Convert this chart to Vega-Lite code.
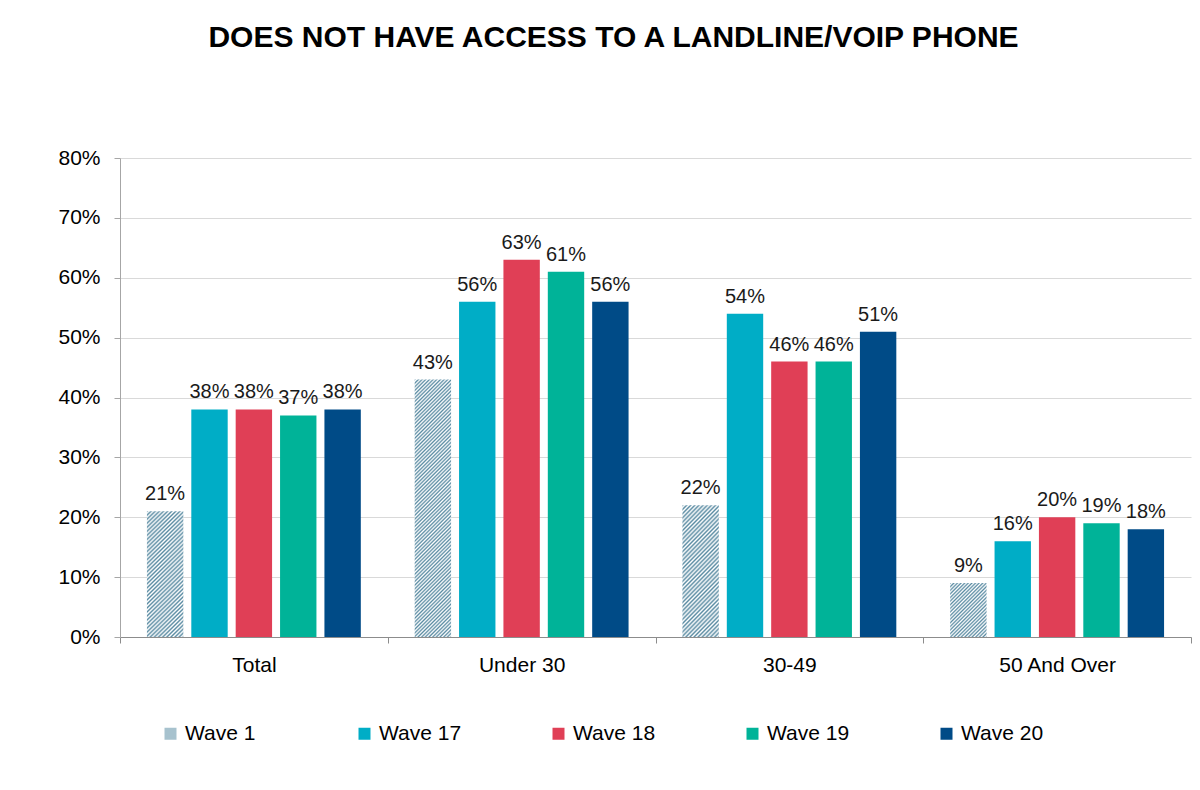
{
"$schema":"https://vega.github.io/schema/vega-lite/v6.json",
"width":1071,"height":479,
"autosize":"none",
"padding":{"left":120,"top":158,"right":9,"bottom":153},
"background":"white",
"title":{"text":"DOES NOT HAVE ACCESS TO A LANDLINE/VOIP PHONE","fontSize":30,"fontWeight":"bold","font":"Liberation Sans","color":"#000000","anchor":"middle","frame":"group","dx":-42,"offset":94},
"data":{"values":[
{"group":"Total","wave":"Wave 1","value":0.21},
{"group":"Total","wave":"Wave 17","value":0.38},
{"group":"Total","wave":"Wave 18","value":0.38},
{"group":"Total","wave":"Wave 19","value":0.37},
{"group":"Total","wave":"Wave 20","value":0.38},
{"group":"Under 30","wave":"Wave 1","value":0.43},
{"group":"Under 30","wave":"Wave 17","value":0.56},
{"group":"Under 30","wave":"Wave 18","value":0.63},
{"group":"Under 30","wave":"Wave 19","value":0.61},
{"group":"Under 30","wave":"Wave 20","value":0.56},
{"group":"30-49","wave":"Wave 1","value":0.22},
{"group":"30-49","wave":"Wave 17","value":0.54},
{"group":"30-49","wave":"Wave 18","value":0.46},
{"group":"30-49","wave":"Wave 19","value":0.46},
{"group":"30-49","wave":"Wave 20","value":0.51},
{"group":"50 And Over","wave":"Wave 1","value":0.09},
{"group":"50 And Over","wave":"Wave 17","value":0.16},
{"group":"50 And Over","wave":"Wave 18","value":0.20},
{"group":"50 And Over","wave":"Wave 19","value":0.19},
{"group":"50 And Over","wave":"Wave 20","value":0.18}
]},
"encoding":{
"x":{"field":"group","type":"nominal","sort":["Total","Under 30","30-49","50 And Over"],"scale":{"paddingInner":0,"paddingOuter":0},
"axis":{"title":null,"labelAngle":0,"labelFontSize":21,"labelFont":"Liberation Sans","labelColor":"#000000","labelPadding":11,"tickBand":"extent","tickSize":6,"tickColor":"#8c8c8c","domainColor":"#8c8c8c","grid":false}},
"xOffset":{"field":"wave","type":"nominal","sort":["Wave 1","Wave 17","Wave 18","Wave 19","Wave 20"],"scale":{"paddingInner":0.18,"paddingOuter":0.607}},
"y":{"field":"value","type":"quantitative","scale":{"domain":[0,0.8]},
"axis":{"title":null,"values":[0,0.1,0.2,0.3,0.4,0.5,0.6,0.7,0.8],"format":".0%","labelFontSize":21,"labelFont":"Liberation Sans","labelColor":"#000000","labelPadding":14,"tickSize":6,"tickColor":"#a6a6a6","domainColor":"#a6a6a6","gridColor":"#d9d9d9"}}
},
"layer":[
{"mark":{"type":"bar"},
"encoding":{"color":{
"condition":[
{"test":"datum.wave === 'Wave 1' && (datum.group === 'Total' || datum.group === '30-49')","value":{"gradient":"linear","x1":0,"y1":0,"x2":0.336,"y2":1.188,"stops":[
{"offset":0,"color":"#5b8ca3"},{"offset":0.0125,"color":"#fff"},{"offset":0.025,"color":"#5b8ca3"},{"offset":0.0375,"color":"#fff"},{"offset":0.05,"color":"#5b8ca3"},{"offset":0.0625,"color":"#fff"},{"offset":0.075,"color":"#5b8ca3"},{"offset":0.0875,"color":"#fff"},
{"offset":0.1,"color":"#5b8ca3"},{"offset":0.1125,"color":"#fff"},{"offset":0.125,"color":"#5b8ca3"},{"offset":0.1375,"color":"#fff"},{"offset":0.15,"color":"#5b8ca3"},{"offset":0.1625,"color":"#fff"},{"offset":0.175,"color":"#5b8ca3"},{"offset":0.1875,"color":"#fff"},
{"offset":0.2,"color":"#5b8ca3"},{"offset":0.2125,"color":"#fff"},{"offset":0.225,"color":"#5b8ca3"},{"offset":0.2375,"color":"#fff"},{"offset":0.25,"color":"#5b8ca3"},{"offset":0.2625,"color":"#fff"},{"offset":0.275,"color":"#5b8ca3"},{"offset":0.2875,"color":"#fff"},
{"offset":0.3,"color":"#5b8ca3"},{"offset":0.3125,"color":"#fff"},{"offset":0.325,"color":"#5b8ca3"},{"offset":0.3375,"color":"#fff"},{"offset":0.35,"color":"#5b8ca3"},{"offset":0.3625,"color":"#fff"},{"offset":0.375,"color":"#5b8ca3"},{"offset":0.3875,"color":"#fff"},
{"offset":0.4,"color":"#5b8ca3"},{"offset":0.4125,"color":"#fff"},{"offset":0.425,"color":"#5b8ca3"},{"offset":0.4375,"color":"#fff"},{"offset":0.45,"color":"#5b8ca3"},{"offset":0.4625,"color":"#fff"},{"offset":0.475,"color":"#5b8ca3"},{"offset":0.4875,"color":"#fff"},
{"offset":0.5,"color":"#5b8ca3"},{"offset":0.5125,"color":"#fff"},{"offset":0.525,"color":"#5b8ca3"},{"offset":0.5375,"color":"#fff"},{"offset":0.55,"color":"#5b8ca3"},{"offset":0.5625,"color":"#fff"},{"offset":0.575,"color":"#5b8ca3"},{"offset":0.5875,"color":"#fff"},
{"offset":0.6,"color":"#5b8ca3"},{"offset":0.6125,"color":"#fff"},{"offset":0.625,"color":"#5b8ca3"},{"offset":0.6375,"color":"#fff"},{"offset":0.65,"color":"#5b8ca3"},{"offset":0.6625,"color":"#fff"},{"offset":0.675,"color":"#5b8ca3"},{"offset":0.6875,"color":"#fff"},
{"offset":0.7,"color":"#5b8ca3"},{"offset":0.7125,"color":"#fff"},{"offset":0.725,"color":"#5b8ca3"},{"offset":0.7375,"color":"#fff"},{"offset":0.75,"color":"#5b8ca3"},{"offset":0.7625,"color":"#fff"},{"offset":0.775,"color":"#5b8ca3"},{"offset":0.7875,"color":"#fff"},
{"offset":0.8,"color":"#5b8ca3"},{"offset":0.8125,"color":"#fff"},{"offset":0.825,"color":"#5b8ca3"},{"offset":0.8375,"color":"#fff"},{"offset":0.85,"color":"#5b8ca3"},{"offset":0.8625,"color":"#fff"},{"offset":0.875,"color":"#5b8ca3"},{"offset":0.8875,"color":"#fff"},
{"offset":0.9,"color":"#5b8ca3"},{"offset":0.9125,"color":"#fff"},{"offset":0.925,"color":"#5b8ca3"},{"offset":0.9375,"color":"#fff"},{"offset":0.95,"color":"#5b8ca3"},{"offset":0.9625,"color":"#fff"},{"offset":0.975,"color":"#5b8ca3"},{"offset":0.9875,"color":"#fff"},
{"offset":1,"color":"#5b8ca3"}]}},
{"test":"datum.wave === 'Wave 1' && datum.group === 'Under 30'","value":{"gradient":"linear","x1":0,"y1":0,"x2":0.158,"y2":1.119,"stops":[
{"offset":0,"color":"#5b8ca3"},{"offset":0.00625,"color":"#fff"},{"offset":0.0125,"color":"#5b8ca3"},{"offset":0.01875,"color":"#fff"},{"offset":0.025,"color":"#5b8ca3"},{"offset":0.03125,"color":"#fff"},{"offset":0.0375,"color":"#5b8ca3"},{"offset":0.04375,"color":"#fff"},{"offset":0.05,"color":"#5b8ca3"},{"offset":0.05625,"color":"#fff"},{"offset":0.0625,"color":"#5b8ca3"},{"offset":0.06875,"color":"#fff"},{"offset":0.075,"color":"#5b8ca3"},{"offset":0.08125,"color":"#fff"},{"offset":0.0875,"color":"#5b8ca3"},{"offset":0.09375,"color":"#fff"},
{"offset":0.1,"color":"#5b8ca3"},{"offset":0.10625,"color":"#fff"},{"offset":0.1125,"color":"#5b8ca3"},{"offset":0.11875,"color":"#fff"},{"offset":0.125,"color":"#5b8ca3"},{"offset":0.13125,"color":"#fff"},{"offset":0.1375,"color":"#5b8ca3"},{"offset":0.14375,"color":"#fff"},{"offset":0.15,"color":"#5b8ca3"},{"offset":0.15625,"color":"#fff"},{"offset":0.1625,"color":"#5b8ca3"},{"offset":0.16875,"color":"#fff"},{"offset":0.175,"color":"#5b8ca3"},{"offset":0.18125,"color":"#fff"},{"offset":0.1875,"color":"#5b8ca3"},{"offset":0.19375,"color":"#fff"},
{"offset":0.2,"color":"#5b8ca3"},{"offset":0.20625,"color":"#fff"},{"offset":0.2125,"color":"#5b8ca3"},{"offset":0.21875,"color":"#fff"},{"offset":0.225,"color":"#5b8ca3"},{"offset":0.23125,"color":"#fff"},{"offset":0.2375,"color":"#5b8ca3"},{"offset":0.24375,"color":"#fff"},{"offset":0.25,"color":"#5b8ca3"},{"offset":0.25625,"color":"#fff"},{"offset":0.2625,"color":"#5b8ca3"},{"offset":0.26875,"color":"#fff"},{"offset":0.275,"color":"#5b8ca3"},{"offset":0.28125,"color":"#fff"},{"offset":0.2875,"color":"#5b8ca3"},{"offset":0.29375,"color":"#fff"},
{"offset":0.3,"color":"#5b8ca3"},{"offset":0.30625,"color":"#fff"},{"offset":0.3125,"color":"#5b8ca3"},{"offset":0.31875,"color":"#fff"},{"offset":0.325,"color":"#5b8ca3"},{"offset":0.33125,"color":"#fff"},{"offset":0.3375,"color":"#5b8ca3"},{"offset":0.34375,"color":"#fff"},{"offset":0.35,"color":"#5b8ca3"},{"offset":0.35625,"color":"#fff"},{"offset":0.3625,"color":"#5b8ca3"},{"offset":0.36875,"color":"#fff"},{"offset":0.375,"color":"#5b8ca3"},{"offset":0.38125,"color":"#fff"},{"offset":0.3875,"color":"#5b8ca3"},{"offset":0.39375,"color":"#fff"},
{"offset":0.4,"color":"#5b8ca3"},{"offset":0.40625,"color":"#fff"},{"offset":0.4125,"color":"#5b8ca3"},{"offset":0.41875,"color":"#fff"},{"offset":0.425,"color":"#5b8ca3"},{"offset":0.43125,"color":"#fff"},{"offset":0.4375,"color":"#5b8ca3"},{"offset":0.44375,"color":"#fff"},{"offset":0.45,"color":"#5b8ca3"},{"offset":0.45625,"color":"#fff"},{"offset":0.4625,"color":"#5b8ca3"},{"offset":0.46875,"color":"#fff"},{"offset":0.475,"color":"#5b8ca3"},{"offset":0.48125,"color":"#fff"},{"offset":0.4875,"color":"#5b8ca3"},{"offset":0.49375,"color":"#fff"},
{"offset":0.5,"color":"#5b8ca3"},{"offset":0.50625,"color":"#fff"},{"offset":0.5125,"color":"#5b8ca3"},{"offset":0.51875,"color":"#fff"},{"offset":0.525,"color":"#5b8ca3"},{"offset":0.53125,"color":"#fff"},{"offset":0.5375,"color":"#5b8ca3"},{"offset":0.54375,"color":"#fff"},{"offset":0.55,"color":"#5b8ca3"},{"offset":0.55625,"color":"#fff"},{"offset":0.5625,"color":"#5b8ca3"},{"offset":0.56875,"color":"#fff"},{"offset":0.575,"color":"#5b8ca3"},{"offset":0.58125,"color":"#fff"},{"offset":0.5875,"color":"#5b8ca3"},{"offset":0.59375,"color":"#fff"},
{"offset":0.6,"color":"#5b8ca3"},{"offset":0.60625,"color":"#fff"},{"offset":0.6125,"color":"#5b8ca3"},{"offset":0.61875,"color":"#fff"},{"offset":0.625,"color":"#5b8ca3"},{"offset":0.63125,"color":"#fff"},{"offset":0.6375,"color":"#5b8ca3"},{"offset":0.64375,"color":"#fff"},{"offset":0.65,"color":"#5b8ca3"},{"offset":0.65625,"color":"#fff"},{"offset":0.6625,"color":"#5b8ca3"},{"offset":0.66875,"color":"#fff"},{"offset":0.675,"color":"#5b8ca3"},{"offset":0.68125,"color":"#fff"},{"offset":0.6875,"color":"#5b8ca3"},{"offset":0.69375,"color":"#fff"},
{"offset":0.7,"color":"#5b8ca3"},{"offset":0.70625,"color":"#fff"},{"offset":0.7125,"color":"#5b8ca3"},{"offset":0.71875,"color":"#fff"},{"offset":0.725,"color":"#5b8ca3"},{"offset":0.73125,"color":"#fff"},{"offset":0.7375,"color":"#5b8ca3"},{"offset":0.74375,"color":"#fff"},{"offset":0.75,"color":"#5b8ca3"},{"offset":0.75625,"color":"#fff"},{"offset":0.7625,"color":"#5b8ca3"},{"offset":0.76875,"color":"#fff"},{"offset":0.775,"color":"#5b8ca3"},{"offset":0.78125,"color":"#fff"},{"offset":0.7875,"color":"#5b8ca3"},{"offset":0.79375,"color":"#fff"},
{"offset":0.8,"color":"#5b8ca3"},{"offset":0.80625,"color":"#fff"},{"offset":0.8125,"color":"#5b8ca3"},{"offset":0.81875,"color":"#fff"},{"offset":0.825,"color":"#5b8ca3"},{"offset":0.83125,"color":"#fff"},{"offset":0.8375,"color":"#5b8ca3"},{"offset":0.84375,"color":"#fff"},{"offset":0.85,"color":"#5b8ca3"},{"offset":0.85625,"color":"#fff"},{"offset":0.8625,"color":"#5b8ca3"},{"offset":0.86875,"color":"#fff"},{"offset":0.875,"color":"#5b8ca3"},{"offset":0.88125,"color":"#fff"},{"offset":0.8875,"color":"#5b8ca3"},{"offset":0.89375,"color":"#fff"},
{"offset":0.9,"color":"#5b8ca3"},{"offset":0.90625,"color":"#fff"},{"offset":0.9125,"color":"#5b8ca3"},{"offset":0.91875,"color":"#fff"},{"offset":0.925,"color":"#5b8ca3"},{"offset":0.93125,"color":"#fff"},{"offset":0.9375,"color":"#5b8ca3"},{"offset":0.94375,"color":"#fff"},{"offset":0.95,"color":"#5b8ca3"},{"offset":0.95625,"color":"#fff"},{"offset":0.9625,"color":"#5b8ca3"},{"offset":0.96875,"color":"#fff"},{"offset":0.975,"color":"#5b8ca3"},{"offset":0.98125,"color":"#fff"},{"offset":0.9875,"color":"#5b8ca3"},{"offset":0.99375,"color":"#fff"},
{"offset":1,"color":"#5b8ca3"}]}},
{"test":"datum.wave === 'Wave 1' && datum.group === '50 And Over'","value":{"gradient":"linear","x1":0,"y1":0,"x2":0.777,"y2":1.151,"stops":[
{"offset":0,"color":"#5b8ca3"},{"offset":0.02,"color":"#fff"},{"offset":0.04,"color":"#5b8ca3"},{"offset":0.06,"color":"#fff"},{"offset":0.08,"color":"#5b8ca3"},{"offset":0.1,"color":"#fff"},{"offset":0.12,"color":"#5b8ca3"},{"offset":0.14,"color":"#fff"},{"offset":0.16,"color":"#5b8ca3"},{"offset":0.18,"color":"#fff"},
{"offset":0.2,"color":"#5b8ca3"},{"offset":0.22,"color":"#fff"},{"offset":0.24,"color":"#5b8ca3"},{"offset":0.26,"color":"#fff"},{"offset":0.28,"color":"#5b8ca3"},{"offset":0.3,"color":"#fff"},{"offset":0.32,"color":"#5b8ca3"},{"offset":0.34,"color":"#fff"},{"offset":0.36,"color":"#5b8ca3"},{"offset":0.38,"color":"#fff"},
{"offset":0.4,"color":"#5b8ca3"},{"offset":0.42,"color":"#fff"},{"offset":0.44,"color":"#5b8ca3"},{"offset":0.46,"color":"#fff"},{"offset":0.48,"color":"#5b8ca3"},{"offset":0.5,"color":"#fff"},{"offset":0.52,"color":"#5b8ca3"},{"offset":0.54,"color":"#fff"},{"offset":0.56,"color":"#5b8ca3"},{"offset":0.58,"color":"#fff"},
{"offset":0.6,"color":"#5b8ca3"},{"offset":0.62,"color":"#fff"},{"offset":0.64,"color":"#5b8ca3"},{"offset":0.66,"color":"#fff"},{"offset":0.68,"color":"#5b8ca3"},{"offset":0.7,"color":"#fff"},{"offset":0.72,"color":"#5b8ca3"},{"offset":0.74,"color":"#fff"},{"offset":0.76,"color":"#5b8ca3"},{"offset":0.78,"color":"#fff"},
{"offset":0.8,"color":"#5b8ca3"},{"offset":0.82,"color":"#fff"},{"offset":0.84,"color":"#5b8ca3"},{"offset":0.86,"color":"#fff"},{"offset":0.88,"color":"#5b8ca3"},{"offset":0.9,"color":"#fff"},{"offset":0.92,"color":"#5b8ca3"},{"offset":0.94,"color":"#fff"},{"offset":0.96,"color":"#5b8ca3"},{"offset":0.98,"color":"#fff"},
{"offset":1,"color":"#5b8ca3"}]}}
],
"field":"wave","type":"nominal",
"scale":{"domain":["Wave 1","Wave 17","Wave 18","Wave 19","Wave 20"],"range":["#a7c2ce","#00adc6","#e03f56","#00b398","#004b87"]},
"legend":{"title":null,"orient":"none","legendX":40,"legendY":565,"direction":"horizontal","columns":5,"gridAlign":"all","columnPadding":86,"padding":0,"symbolType":"square","symbolSize":144,"symbolStrokeWidth":0,"labelFontSize":21,"labelFont":"Liberation Sans","labelColor":"#000000","labelOffset":4,"labelLimit":200}
}}},
{"mark":{"type":"text","baseline":"alphabetic","dy":-11,"fontSize":20,"font":"Liberation Sans","color":"#1a1a1a"},
"encoding":{"text":{"field":"value","type":"quantitative","format":".0%"}}}
],
"config":{"view":{"stroke":null},"font":"Liberation Sans"}
}
